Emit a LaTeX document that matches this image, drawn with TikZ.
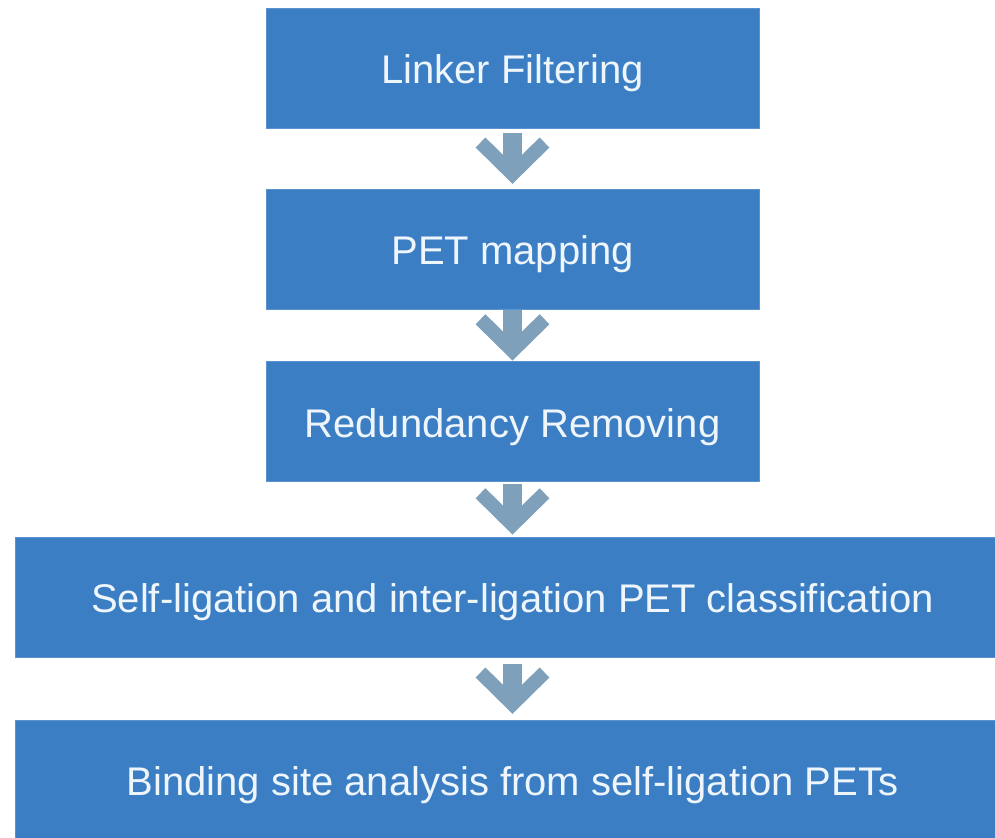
\documentclass[tikz,border=0pt]{standalone}
\usepackage{fontspec}
\setmainfont{Liberation Sans}
\usepackage{xcolor}
\definecolor{stepBlue}{HTML}{3B7EC4}
\definecolor{stepEdge}{HTML}{5A93D0}
\definecolor{chevGray}{HTML}{7FA0BA}
\definecolor{stepText}{HTML}{EEF5FB}
\usetikzlibrary{calc}

\begin{document}
\begin{tikzpicture}[x=0.75pt,y=-0.75pt,
  stepbox/.style={fill=stepBlue, draw=stepEdge, line width=0.6pt,
    minimum height=90pt, inner sep=0pt, text=stepText,
    text height=23.7pt, text depth=0pt,
    font=\fontsize{30}{36}\selectfont},
  narrowbox/.style={stepbox, minimum width=369.75pt},
  widebox/.style={stepbox, minimum width=746.25pt}]
  % picture frame
  \clip (0,0) rectangle (995,838);
  \fill[white] (0,0) rectangle (995,838);
  % the five steps, top to bottom
  \node[narrowbox] (linker)  at (512.5,68)  {Linker Filtering};
  \node[narrowbox] (pet)     at (512.5,249) {PET mapping};
  \node[narrowbox] (redund)  at (512.5,421.5) {Redundancy Removing};
  \node[widebox]   (selflig) at (512.5,597) {Self-ligation and inter-ligation PET classification};
  \node[widebox]   (binding) at (512.5,780) {Binding site analysis from self-ligation PETs};
  % chevron arrows between the steps
  \foreach \a/\b in {linker/pet, pet/redund, redund/selflig, selflig/binding} {
    \coordinate (m) at ($(\a.south)!0.5!(\b.north)$);
    \draw[chevGray, line width=14.25pt] ($(m)+(0,-25)$) -- ($(m)+(0,12)$);
    \draw[chevGray, line width=10.5pt, miter limit=4]
      ($(m)+(-32,-16)$) -- ($(m)+(0,15.5)$) -- ($(m)+(32,-16)$);
  }
\end{tikzpicture}
\end{document}
